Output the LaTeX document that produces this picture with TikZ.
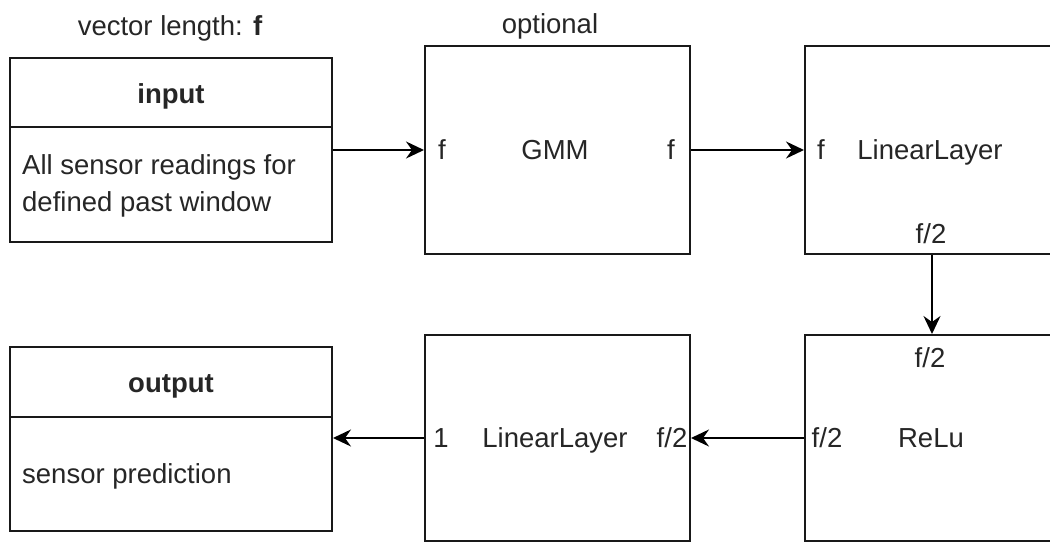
\documentclass[tikz,border=0pt]{standalone}
\usepackage{fontspec}
\setmainfont{Liberation Sans}
\usetikzlibrary{arrows.meta}

\tikzset{
  blk/.style={draw=black!90, line width=2pt, rectangle, inner sep=0pt},
  txt/.style={inner sep=0pt, text=black!85,
              font=\fontsize{27.5}{33}\selectfont},
  lbl/.style={txt, anchor=center, text height=19.7pt, text depth=0pt},
  flow/.style={draw=black, line width=2pt,
               -{Stealth[length=18pt, width=17pt, inset=6pt]}},
}

\begin{document}
\begin{tikzpicture}[x=1pt, y=-1pt]
  \useasboundingbox (0,0) rectangle (1050,542);
  \clip (0,0) rectangle (1050,542);
  \fill[white] (0,0) rectangle (1050,542);

  % stage blocks
  \node[blk, minimum width=322pt, minimum height=184pt] (in)   at (171,150) {};
  \node[blk, minimum width=265pt, minimum height=208pt] (gmm)  at (557.5,150) {};
  \node[blk, minimum width=254pt, minimum height=208pt] (lin1) at (932,150) {};
  \node[blk, minimum width=254pt, minimum height=206pt] (relu) at (932,438) {};
  \node[blk, minimum width=265pt, minimum height=206pt] (lin2) at (557.5,438) {};
  \node[blk, minimum width=322pt, minimum height=184pt] (out)  at (171,439) {};

  % header separators of the input / output blocks
  \coordinate (inSep) at (0,127);
  \coordinate (outSep) at (0,417);
  \draw[line width=2pt, black!90] (in.west |- inSep) -- (in.east |- inSep);
  \draw[line width=2pt, black!90] (out.west |- outSep) -- (out.east |- outSep);

  % captions above the first row
  \node[lbl] (cap1) at (170,26) {vector length: \textbf{f}};
  \node[lbl] (cap2) at (550,24) {optional};

  % input block
  \node[lbl, font=\fontsize{27.5}{33}\selectfont\bfseries] (inHead) at (171,94) {input};
  \node[txt, anchor=west, align=left, font=\fontsize{27.5}{37}\selectfont]
    (inBody) at (22,186) {All sensor readings for\\defined past window};

  % output block
  \node[lbl, font=\fontsize{27.5}{33}\selectfont\bfseries] (outHead) at (171,383) {output};
  \node[lbl, anchor=west] (outBody) at (22,474) {sensor prediction};

  % GMM
  \node[lbl] (gmmIn)  at (442,150) {f};
  \node[lbl] (gmmTxt) at (555,150) {GMM};
  \node[lbl] (gmmOut) at (671,150) {f};

  % first linear layer
  \node[lbl] (l1In)  at (821,150) {f};
  \node[lbl] (l1Txt) at (930,150) {LinearLayer};
  \node[lbl] (l1Out) at (931,234) {f/2};

  % ReLu
  \node[lbl] (reIn)  at (930,358) {f/2};
  \node[lbl] (reOut) at (827,438) {f/2};
  \node[lbl] (reTxt) at (931,438) {ReLu};

  % second linear layer
  \node[lbl] (l2Out) at (441,438) {1};
  \node[lbl] (l2Txt) at (555,438) {LinearLayer};
  \node[lbl] (l2In)  at (672,438) {f/2};

  % data flow
  \draw[flow] (in.east) -- (gmm.west);
  \draw[flow] (gmm.east) -- (lin1.west);
  \draw[flow] (lin1.south) -- (relu.north);
  \draw[flow] (relu.west) -- (lin2.east);
  \draw[flow] (lin2.west) -- (out.east |- lin2.west);
\end{tikzpicture}
\end{document}
